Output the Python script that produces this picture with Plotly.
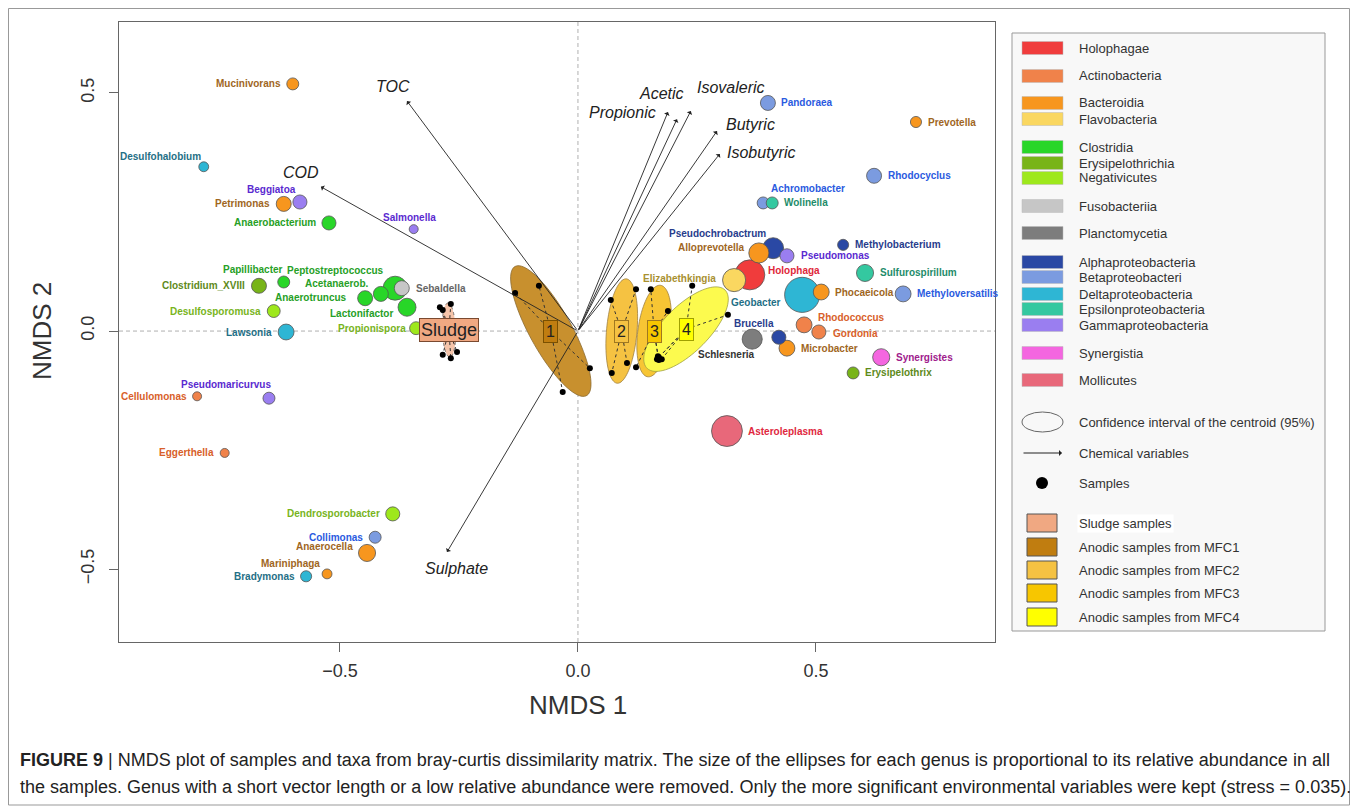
import numpy as np
import plotly.graph_objects as go

# ---------------- DATA ----------------
genera = ["Mucinivorans", "Desulfohalobium", "Beggiatoa", "Petrimonas", "Anaerobacterium",
          "Salmonella", "Papillibacter", "Clostridium_XVIII", "Desulfosporomusa", "Lawsonia",
          "Peptostreptococcus", "Acetanaerob.", "Anaerotruncus", "Sebaldella", "Lactonifactor",
          "Propionispora", "Pseudomaricurvus", "Cellulomonas", "Eggerthella", "Dendrosporobacter",
          "Collimonas", "Anaerocella", "Mariniphaga", "Bradymonas", "Pandoraea",
          "Prevotella", "Rhodocyclus", "Achromobacter", "Wolinella", "Methylobacterium",
          "Pseudochrobactrum", "Alloprevotella", "Pseudomonas", "Sulfurospirillum", "Holophaga",
          "Elizabethkingia", "Geobacter", "Phocaeicola", "Methyloversatilis", "Rhodococcus",
          "Gordonia", "Brucella", "Schlesneria", "Microbacter", "Synergistes",
          "Erysipelothrix", "Asteroleplasma"]
nmds1 = [-0.599, -0.786, -0.584, -0.618, -0.523,
         -0.345, -0.618, -0.670, -0.639, -0.613,
         -0.384, -0.414, -0.447, -0.370, -0.359,
         -0.340, -0.649, -0.800, -0.742, -0.389,
         -0.426, -0.443, -0.527, -0.571, 0.399,
         0.710, 0.622, 0.389, 0.408, 0.557,
         0.410, 0.380, 0.439, 0.603, 0.361,
         0.328, 0.471, 0.511, 0.683, 0.475,
         0.506, 0.422, 0.366, 0.439, 0.637,
         0.578, 0.313]
nmds2 = [0.519, 0.345, 0.271, 0.267, 0.227,
         0.214, 0.103, 0.095, 0.042, -0.002,
         0.090, 0.078, 0.069, 0.090, 0.050,
         0.006, -0.141, -0.137, -0.256, -0.384,
         -0.433, -0.466, -0.510, -0.515, 0.479,
         0.439, 0.326, 0.269, 0.269, 0.181,
         0.174, 0.164, 0.158, 0.122, 0.118,
         0.107, 0.076, 0.082, 0.078, 0.013,
         -0.002, -0.013, -0.017, -0.036, -0.055,
         -0.088, -0.210]
taxon_class = ["Bacteroidia", "Deltaproteobacteria", "Gammaproteobacteria", "Bacteroidia", "Clostridia",
               "Gammaproteobacteria", "Clostridia", "Erysipelothrichia", "Negativicutes", "Deltaproteobacteria",
               "Clostridia", "Clostridia", "Clostridia", "Fusobacteriia", "Clostridia",
               "Negativicutes", "Gammaproteobacteria", "Actinobacteria", "Actinobacteria", "Negativicutes",
               "Betaproteobacteri", "Bacteroidia", "Bacteroidia", "Deltaproteobacteria", "Betaproteobacteri",
               "Bacteroidia", "Betaproteobacteri", "Betaproteobacteri", "Epsilonproteobacteria", "Alphaproteobacteria",
               "Alphaproteobacteria", "Bacteroidia", "Gammaproteobacteria", "Epsilonproteobacteria", "Holophagae",
               "Flavobacteria", "Deltaproteobacteria", "Bacteroidia", "Betaproteobacteri", "Actinobacteria",
               "Actinobacteria", "Alphaproteobacteria", "Planctomycetia", "Bacteroidia", "Synergistia",
               "Erysipelothrichia", "Mollicutes"]
# relative abundance index (circle diameter proportional)
abundance = [4.0, 3.3, 4.7, 5.0, 4.7,
             3.0, 4.0, 5.0, 4.3, 5.3,
             8.0, 5.0, 5.0, 5.0, 6.0,
             4.3, 4.0, 3.0, 3.0, 4.7,
             4.0, 5.7, 3.3, 3.7, 5.0,
             3.7, 5.0, 4.0, 4.0, 3.7,
             7.0, 6.7, 4.7, 5.7, 10.0,
             7.7, 11.7, 5.3, 5.3, 5.3,
             4.7, 4.7, 6.7, 5.3, 5.7,
             4.0, 10.3]

classes = ["Holophagae", "Actinobacteria", "Bacteroidia", "Flavobacteria", "Clostridia",
           "Erysipelothrichia", "Negativicutes", "Fusobacteriia", "Planctomycetia",
           "Alphaproteobacteria", "Betaproteobacteri", "Deltaproteobacteria",
           "Epsilonproteobacteria", "Gammaproteobacteria", "Synergistia", "Mollicutes"]

vectors = ["TOC", "COD", "Sulphate", "Propionic", "Acetic", "Isovaleric", "Butyric", "Isobutyric"]
vec_x = [-0.359, -0.540, -0.275, 0.189, 0.208, 0.237, 0.292, 0.298]
vec_y = [0.483, 0.303, -0.464, 0.460, 0.445, 0.462, 0.420, 0.372]

groups = ["Sludge", "1", "2", "3", "4"]
group_names = ["Sludge samples", "Anodic samples from MFC1", "Anodic samples from MFC2",
               "Anodic samples from MFC3", "Anodic samples from MFC4"]
sample_x = [[-0.290, -0.267, -0.284, -0.284, -0.267, -0.254],
            [-0.132, -0.082, 0.025, -0.032],
            [0.069, 0.122, 0.103, 0.071],
            [0.153, 0.189, 0.122, 0.168, 0.170],
            [0.240, 0.315, 0.170, 0.176, 0.166]]
sample_y = [[0.050, 0.057, 0.044, -0.050, -0.057, -0.044],
            [0.080, 0.095, -0.078, -0.128],
            [0.065, 0.088, -0.067, -0.088],
            [0.088, 0.042, -0.076, -0.053, -0.061],
            [0.095, 0.034, -0.055, -0.059, -0.059]]
# 95% CI ellipses of centroids
cent_x = [-0.271, -0.057, 0.092, 0.160, 0.227]
cent_y = [0.002, 0.000, 0.000, 0.000, 0.004]
ell_a = [0.057, 0.155, 0.110, 0.097, 0.116]
ell_b = [0.014, 0.044, 0.032, 0.034, 0.048]
ell_angle = [92, 119, 85, 82, 45]

x_ticks = [-0.5, 0.0, 0.5]
y_ticks = [-0.5, 0.0, 0.5]

caption1 = ("<b>FIGURE 9</b> | NMDS plot of samples and taxa from bray-curtis dissimilarity matrix. "
            "The size of the ellipses for each genus is proportional to its relative abundance in all")
caption2 = ("the samples. Genus with a short vector length or a low relative abundance were removed. "
            "Only the more significant environmental variables were kept (stress = 0.035).")

# ---------------- STYLE ----------------
fill = {"Holophagae": "#f03c3c", "Actinobacteria": "#f0824a", "Bacteroidia": "#f7961e",
        "Flavobacteria": "#fad760", "Clostridia": "#28d628", "Erysipelothrichia": "#78b418",
        "Negativicutes": "#9ee81c", "Fusobacteriia": "#c6c6c6", "Planctomycetia": "#7d7d7d",
        "Alphaproteobacteria": "#2a48a4", "Betaproteobacteri": "#7b9be0",
        "Deltaproteobacteria": "#2eb6d4", "Epsilonproteobacteria": "#34c8a0",
        "Gammaproteobacteria": "#9a7ef0", "Synergistia": "#f466e0", "Mollicutes": "#e8687a"}
txtcol = {"Holophagae": "#e0283a", "Actinobacteria": "#d8602a", "Bacteroidia": "#a0661e",
          "Flavobacteria": "#a89030", "Clostridia": "#26a026", "Erysipelothrichia": "#5e8a1a",
          "Negativicutes": "#78b41c", "Fusobacteriia": "#666666", "Planctomycetia": "#333333",
          "Alphaproteobacteria": "#283c8c", "Betaproteobacteri": "#2a5ae0",
          "Deltaproteobacteria": "#1f6f86", "Epsilonproteobacteria": "#1e8c6a",
          "Gammaproteobacteria": "#5a2ad0", "Synergistia": "#a0208c", "Mollicutes": "#e0283e"}
# label placement: (anchor, dx px, dy px up); default: beside the circle
label_pos = {"Desulfohalobium": ("right", -1, 10), "Beggiatoa": ("center", -28, 13),
             "Salmonella": ("center", -4, 12), "Papillibacter": ("center", -31, 13),
             "Peptostreptococcus": ("center", -60, 18), "Acetanaerob.": ("right", -10, 10),
             "Anaerotruncus": ("right", -16, 1), "Lactonifactor": ("right", -12, -6),
             "Propionispora": ("right", -8, 0), "Sebaldella": ("left", 12, 0),
             "Pseudomaricurvus": ("center", -43, 14), "Anaerocella": ("right", -12, 6),
             "Mariniphaga": ("right", -5, 10), "Achromobacter": ("left", 6, 14),
             "Wolinella": ("left", 10, 0), "Pseudochrobactrum": ("right", -5, 15),
             "Alloprevotella": ("right", -12, 5), "Pseudomonas": ("left", 12, 0),
             "Holophaga": ("left", 16, 4), "Elizabethkingia": ("right", -16, 2),
             "Geobacter": ("right", -19, -8), "Rhodococcus": ("left", 12, 7),
             "Gordonia": ("left", 12, -1), "Brucella": ("right", -3, 14),
             "Schlesneria": ("right", 5, -15), "Microbacter": ("left", 12, 0)}
vec_label_off = {"TOC": (-14, 15), "COD": (-20, 14), "Sulphate": (9, -16), "Propionic": (-45, 0),
                 "Acetic": (-15, 26), "Isovaleric": (40, 24), "Butyric": (34, 7), "Isobutyric": (41, 1)}
ell_fill = ["#f5c4aa", "#c8902e", "#f5c242", "#f7c534", "#fcfa4e"]
ell_line = ["#555555", "#8a6a30", "#a08040", "#a08040", "#a0a040"]
box_fill = ["#f0a882", "#c07d10", "#f5c242", "#f7c600", "#ffff00"]
box_line = ["#7a4a30", "#7a5000", "#a07820", "#a07820", "#a0a000"]

FONT = "Liberation Sans, Arial, sans-serif"

X_RANGE = [-0.964, 0.876]
Y_RANGE = [-0.653, 0.649]
# page has an 8px body margin; figure placed at (8,8)
W, H = 1350, 802
L, R, T, B = 111, 363, 14, 168
PW, PH = W - L - R, H - T - B
PX0, PY1 = 8 + L, 8 + H - B   # page pixel of plot left / bottom


def P(xpx):
    return (xpx - PX0) / PW


def Q(ypx):
    return (PY1 - ypx) / PH


fig = go.Figure()
shapes = []
ann = []

# zero lines
shapes.append(dict(type="line", xref="x", yref="paper", x0=0, x1=0, y0=0, y1=1,
                   line=dict(color="#b0b0b0", width=1, dash="4px,3px"), layer="below"))
shapes.append(dict(type="line", xref="paper", yref="y", x0=0, x1=1, y0=0, y1=0,
                   line=dict(color="#b0b0b0", width=1, dash="4px,3px"), layer="below"))

# ellipses
t = np.linspace(0, 2 * np.pi, 90)
for i in range(len(groups)):
    th = np.deg2rad(ell_angle[i])
    ex = cent_x[i] + ell_a[i] * np.cos(t) * np.cos(th) - ell_b[i] * np.sin(t) * np.sin(th)
    ey = cent_y[i] + ell_a[i] * np.cos(t) * np.sin(th) + ell_b[i] * np.sin(t) * np.cos(th)
    path = "M " + " L ".join(f"{a:.5f},{b:.5f}" for a, b in zip(ex, ey)) + " Z"
    shapes.append(dict(type="path", xref="x", yref="y", path=path, fillcolor=ell_fill[i],
                       line=dict(color=ell_line[i], width=0.8, dash="dot" if i == 0 else "solid"),
                       layer="below"))

# spiders + samples
for i in range(len(groups)):
    xs, ys = [], []
    for sx, sy in zip(sample_x[i], sample_y[i]):
        xs += [cent_x[i], sx, None]
        ys += [cent_y[i], sy, None]
    fig.add_trace(go.Scatter(x=xs, y=ys, mode="lines", line=dict(color="#333333", width=1, dash="dot"),
                             hoverinfo="skip", showlegend=False))
    fig.add_trace(go.Scatter(x=sample_x[i], y=sample_y[i], mode="markers",
                             marker=dict(color="black", size=6), showlegend=False))

# vectors
for name, vx, vy in zip(vectors, vec_x, vec_y):
    ann.append(dict(x=vx, y=vy, ax=0, ay=0, xref="x", yref="y", axref="x", ayref="y", text="",
                    showarrow=True, arrowhead=1, arrowsize=1.1, arrowwidth=0.9, arrowcolor="#222222"))
    dx, dy = vec_label_off[name]
    ann.append(dict(x=vx, y=vy, xref="x", yref="y", text=f"<i>{name}</i>", showarrow=False,
                    xanchor="center", yanchor="middle",
                    xshift=dx, yshift=dy, font=dict(family=FONT, size=16, color="#222222")))

# genus circles (largest first)
order = np.argsort(-np.array(abundance), kind="stable")
fig.add_trace(go.Scatter(
    x=[nmds1[k] for k in order], y=[nmds2[k] for k in order], mode="markers",
    marker=dict(size=[abundance[k] * 3 for k in order], color=[fill[taxon_class[k]] for k in order],
                opacity=1, line=dict(color="#555555", width=0.8)),
    text=[genera[k] for k in order], hoverinfo="text", showlegend=False))

# genus labels
for k, g in enumerate(genera):
    r = abundance[k] * 3 / 2
    if g in label_pos:
        anc, dx, dy = label_pos[g]
    elif nmds1[k] > 0:
        anc, dx, dy = "left", r + 4, 0
    else:
        anc, dx, dy = "right", -(r + 4), 0
    ann.append(dict(x=nmds1[k], y=nmds2[k], xref="x", yref="y", text=f"<b>{g}</b>", showarrow=False,
                    xanchor=anc, yanchor="middle", xshift=dx, yshift=dy,
                    font=dict(family=FONT, size=10, color=txtcol[taxon_class[k]])))

# group boxes
for i, g in enumerate(groups):
    ann.append(dict(x=cent_x[i], y=cent_y[i], xref="x", yref="y", text=g, showarrow=False,
                    xanchor="center", yanchor="middle",
                    bgcolor=box_fill[i], bordercolor=box_line[i], borderwidth=1,
                    borderpad=2 if i else 1, font=dict(family=FONT, size=18 if i == 0 else 16, color="#222")))

# axis titles
ann.append(dict(x=P(578), y=Q(705), xref="paper", yref="paper", text="NMDS 1", showarrow=False,
                xanchor="center", yanchor="middle", font=dict(family=FONT, size=26, color="#333")))
ann.append(dict(x=P(42), y=Q(331), xref="paper", yref="paper", text="NMDS 2", showarrow=False,
                xanchor="center", yanchor="middle", textangle=-90,
                font=dict(family=FONT, size=26, color="#333")))

# caption
ann.append(dict(x=P(18), y=Q(760), xref="paper", yref="paper", text=caption1, showarrow=False,
                xanchor="left", yanchor="middle", font=dict(family=FONT, size=18, color="#222")))
ann.append(dict(x=P(18), y=Q(787), xref="paper", yref="paper", text=caption2, showarrow=False,
                xanchor="left", yanchor="middle", font=dict(family=FONT, size=18, color="#222")))

# figure frame
shapes.append(dict(type="rect", xref="paper", yref="paper", x0=P(8.5), x1=P(1349.5), y0=Q(805), y1=Q(8.5),
                   line=dict(color="#999999", width=1)))

# legend
shapes.append(dict(type="rect", xref="paper", yref="paper", x0=P(1012), x1=P(1325), y0=Q(631), y1=Q(33),
                   line=dict(color="#999999", width=1), fillcolor="#f8f8f8"))
legend_y = [48, 76, 103, 119, 147, 163, 178, 206, 233, 262, 277, 294, 309, 325, 353, 380]
for c, yc in zip(classes, legend_y):
    shapes.append(dict(type="rect", xref="paper", yref="paper", x0=P(1022), x1=P(1063),
                       y0=Q(yc + 6.5), y1=Q(yc - 6.5), fillcolor=fill[c],
                       line=dict(color="#bbbbbb", width=0.5)))
    ann.append(dict(x=P(1077), y=Q(yc), xref="paper", yref="paper", text=c, showarrow=False,
                    xanchor="left", yanchor="middle", font=dict(family=FONT, size=13, color="#333")))
shapes.append(dict(type="circle", xref="paper", yref="paper", x0=P(1022), x1=P(1063), y0=Q(432), y1=Q(412),
                   line=dict(color="#666666", width=1)))
ann.append(dict(x=P(1077), y=Q(422), xref="paper", yref="paper", text="Confidence interval of the centroid (95%)",
                showarrow=False, xanchor="left", yanchor="middle", font=dict(family=FONT, size=13, color="#333")))
ann.append(dict(x=P(1062), y=Q(453), xref="paper", yref="paper", ax=-40, ay=0, text="", showarrow=True,
                arrowhead=1, arrowsize=1, arrowwidth=1, arrowcolor="#222"))
ann.append(dict(x=P(1077), y=Q(453), xref="paper", yref="paper", text="Chemical variables",
                showarrow=False, xanchor="left", yanchor="middle", font=dict(family=FONT, size=13, color="#333")))
shapes.append(dict(type="circle", xref="paper", yref="paper", x0=P(1036), x1=P(1048), y0=Q(489), y1=Q(477),
                   fillcolor="black", line=dict(color="black", width=0)))
ann.append(dict(x=P(1077), y=Q(483), xref="paper", yref="paper", text="Samples",
                showarrow=False, xanchor="left", yanchor="middle", font=dict(family=FONT, size=13, color="#333")))
grp_legend_y = [523, 547, 570, 593, 617]
for i, yc in enumerate(grp_legend_y):
    shapes.append(dict(type="rect", xref="paper", yref="paper", x0=P(1027), x1=P(1057),
                       y0=Q(yc + 9), y1=Q(yc - 9), fillcolor=box_fill[i], line=dict(color="#555555", width=1)))
    ann.append(dict(x=P(1077), y=Q(yc), xref="paper", yref="paper", text=group_names[i],
                    showarrow=False, xanchor="left", yanchor="middle",
                    bgcolor="white" if i == 0 else None,
                    font=dict(family=FONT, size=13, color="#333")))

axis_common = dict(showline=True, mirror=True, linecolor="#666666", linewidth=1, ticks="outside",
                   ticklen=9, tickcolor="#666666", showgrid=False, zeroline=False,
                   tickfont=dict(family=FONT, size=18, color="#333"))
fig.update_layout(
    width=W, height=H, margin=dict(l=L, r=R, t=T, b=B),
    paper_bgcolor="white", plot_bgcolor="white",
    xaxis=dict(range=X_RANGE, tickvals=x_ticks, tickformat=".1f", ticklabelstandoff=3, **axis_common),
    yaxis=dict(range=Y_RANGE, tickvals=y_ticks, tickformat=".1f", tickangle=-90, ticklabelstandoff=8,
               **axis_common),
    shapes=shapes, annotations=ann, showlegend=False)

fig.write_html("out.html")
